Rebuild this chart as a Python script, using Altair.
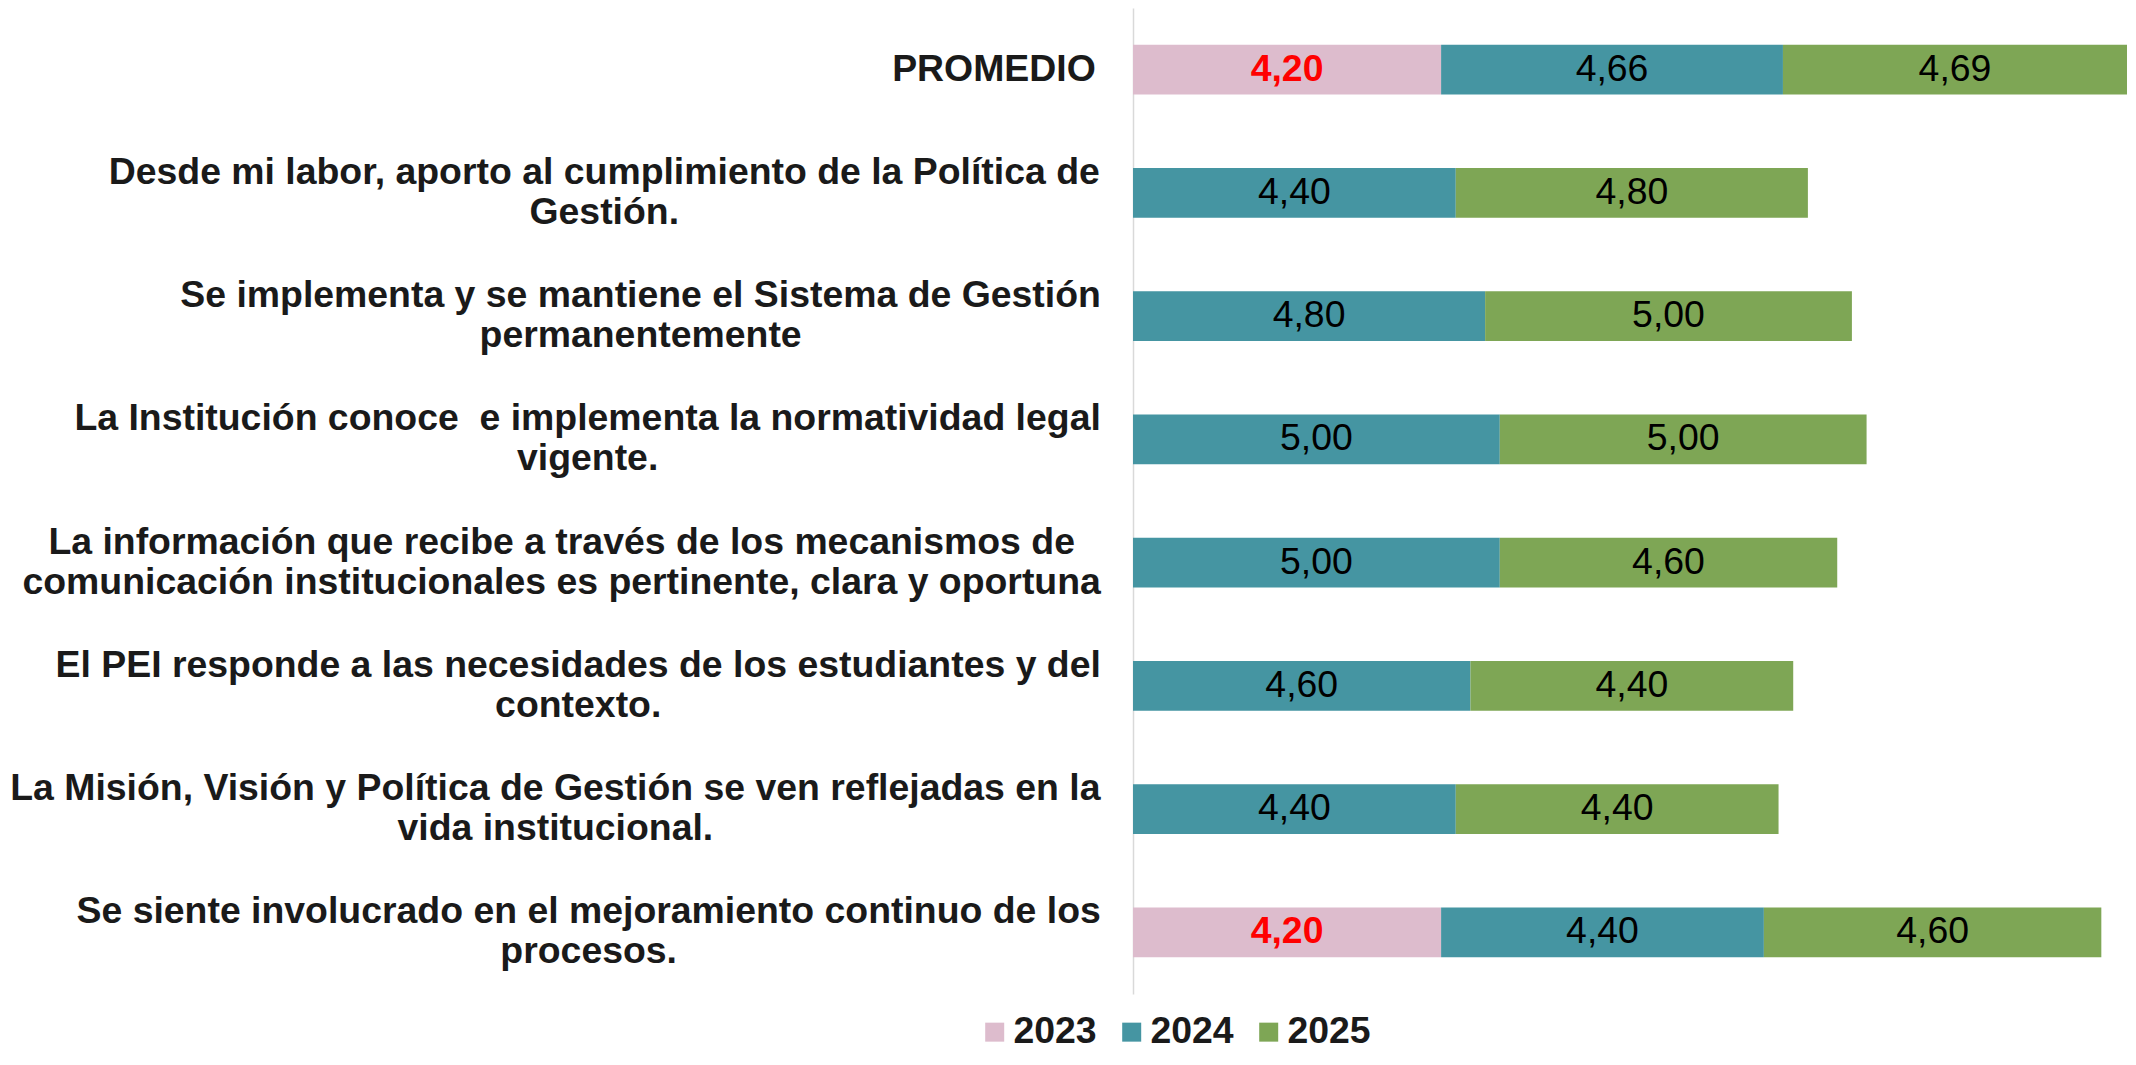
import altair as alt
import pandas as pd

# ---------------- data ----------------
categories = [
    "PROMEDIO",
    "Desde mi labor, aporto al cumplimiento de la Política de Gestión.",
    "Se implementa y se mantiene el Sistema de Gestión permanentemente",
    "La Institución conoce  e implementa la normatividad legal vigente.",
    "La información que recibe a través de los mecanismos de comunicación institucionales es pertinente, clara y oportuna",
    "El PEI responde a las necesidades de los estudiantes y del contexto.",
    "La Misión, Visión y Política de Gestión se ven reflejadas en la vida institucional.",
    "Se siente involucrado en el mejoramiento continuo de los procesos.",
]
label_lines = [
    ["PROMEDIO "],
    ["Desde mi labor, aporto al cumplimiento de la Política de", "Gestión."],
    ["Se implementa y se mantiene el Sistema de Gestión", "permanentemente"],
    ["La Institución conoce\u00a0 e implementa la normatividad legal", "vigente."],
    ["La información que recibe a través de los mecanismos de ",
     "comunicación institucionales es pertinente, clara y oportuna"],
    ["El PEI responde a las necesidades de los estudiantes y del", "contexto."],
    ["La Misión, Visión y Política de Gestión se ven reflejadas en la", "vida institucional."],
    ["Se siente involucrado en el mejoramiento continuo de los", "procesos."],
]
years = ["2023", "2024", "2025"]
v2023 = [4.20, None, None, None, None, None, None, 4.20]
v2024 = [4.66, 4.40, 4.80, 5.00, 5.00, 4.60, 4.40, 4.40]
v2025 = [4.69, 4.80, 5.00, 5.00, 4.60, 4.40, 4.40, 4.60]
colors = ["#DDBCCD", "#4595A2", "#7EA655"]

# ---------------- layout constants ----------------
W, H = 994, 986
XMAX = 13.55
FS = 37.4
LH = 40
FONT = "Liberation Sans"
LABEL_GAP = 32  # px between label block and axis

# Arial/Helvetica Bold advance widths (1/1000 em) to centre multi-line labels
_w = {" ": 278, "\u00a0": 278, ",": 278, ".": 278}
_w.update(dict(zip("abcdefghijklmnopqrstuvwxyz",
                   [556, 611, 556, 611, 556, 333, 611, 611, 278, 278, 556, 278, 889,
                    611, 611, 611, 611, 389, 556, 333, 611, 556, 778, 556, 556, 500])))
_w.update(dict(zip("ABCDEFGHIJKLMNOPQRSTUVWXYZ",
                   [722, 722, 722, 722, 667, 611, 778, 722, 278, 556, 722, 611, 833,
                    722, 778, 667, 778, 722, 667, 611, 722, 667, 944, 667, 667, 611])))
_w.update({"á": 556, "é": 556, "í": 278, "ó": 611, "ú": 611})


def text_width(s):
    return sum(_w.get(c, 556) for c in s) * FS / 1000.0


px_per_unit = W / XMAX

rows = []
for i, cat in enumerate(categories):
    for y, vals in zip(years, [v2023, v2024, v2025]):
        if vals[i] is not None:
            rows.append({"cat": cat, "year": y, "value": vals[i]})
df = pd.DataFrame(rows)

lab_rows = []
for cat, lines in zip(categories, label_lines):
    bw = max(text_width(l) for l in lines)
    lab_rows.append({"cat": cat, "text": "\n".join(lines), "nlines": len(lines),
                     "lx": -(LABEL_GAP + bw / 2) / px_per_unit})
labdf = pd.DataFrame(lab_rows)

xs = alt.Scale(domain=[0, XMAX], nice=False, zero=True)
ys = alt.Scale(domain=categories, paddingInner=0.595, paddingOuter=0.2975)

base = alt.Chart(df).transform_stack(
    stack="value", groupby=["cat"], as_=["x0", "x1"],
    sort=[alt.SortField("year", order="ascending")]
).transform_calculate(
    mid="(datum.x0 + datum.x1) / 2",
    lab="replace(format(datum.value, '.2f'), '.', ',')",
)

bars = base.mark_bar(clip=False).encode(
    x=alt.X("x0:Q", scale=xs, axis=None),
    x2="x1:Q",
    y=alt.Y("cat:N", scale=ys, sort=categories,
            axis=alt.Axis(labels=False, ticks=False, title=None, grid=False,
                          domainColor="#d9d9d9", domainWidth=1.5)),
    color=alt.Color("year:N", scale=alt.Scale(domain=years, range=colors),
                    legend=alt.Legend(
                        title=None, orient="none", direction="horizontal",
                        legendX=-157, legendY=1005, padding=0,
                        symbolType="square", symbolSize=361, symbolStrokeWidth=0,
                        labelFont=FONT, labelFontSize=FS, labelFontWeight="bold",
                        labelColor="#1a1a1a", labelOffset=0, columnPadding=16,
                        symbolOpacity=1)),
)

txt_other = base.transform_filter("datum.year != '2023'").mark_text(
    font=FONT, fontSize=FS, color="black", align="center", baseline="middle"
).encode(
    x=alt.X("mid:Q", scale=xs),
    y=alt.Y("cat:N", scale=ys, sort=categories),
    text="lab:N",
)

txt_2023 = base.transform_filter("datum.year == '2023'").mark_text(
    font=FONT, fontSize=FS, fontWeight="bold", color="#ff0000",
    align="center", baseline="middle"
).encode(
    x=alt.X("mid:Q", scale=xs),
    y=alt.Y("cat:N", scale=ys, sort=categories),
    text="lab:N",
)


def label_layer(n, dy):
    return alt.Chart(labdf).transform_filter(f"datum.nlines == {n}").mark_text(
        font=FONT, fontSize=FS, fontWeight="bold", color="#1a1a1a",
        align="center", baseline="middle", lineBreak="\n", lineHeight=LH,
        dy=dy, clip=False
    ).encode(
        x=alt.X("lx:Q", scale=xs),
        y=alt.Y("cat:N", scale=ys, sort=categories),
        text="text:N",
    )


labels1 = label_layer(1, 0)
labels2 = label_layer(2, -LH / 2)

chart = alt.layer(bars, txt_other, txt_2023, labels1, labels2).properties(
    width=W, height=H,
    autosize=alt.AutoSizeParams(type="none"),
    padding={"left": 1125, "top": 0, "right": 0, "bottom": 57},
).configure_view(stroke=None)

chart.save("out.html", embed_options={"renderer": "svg", "actions": False})
